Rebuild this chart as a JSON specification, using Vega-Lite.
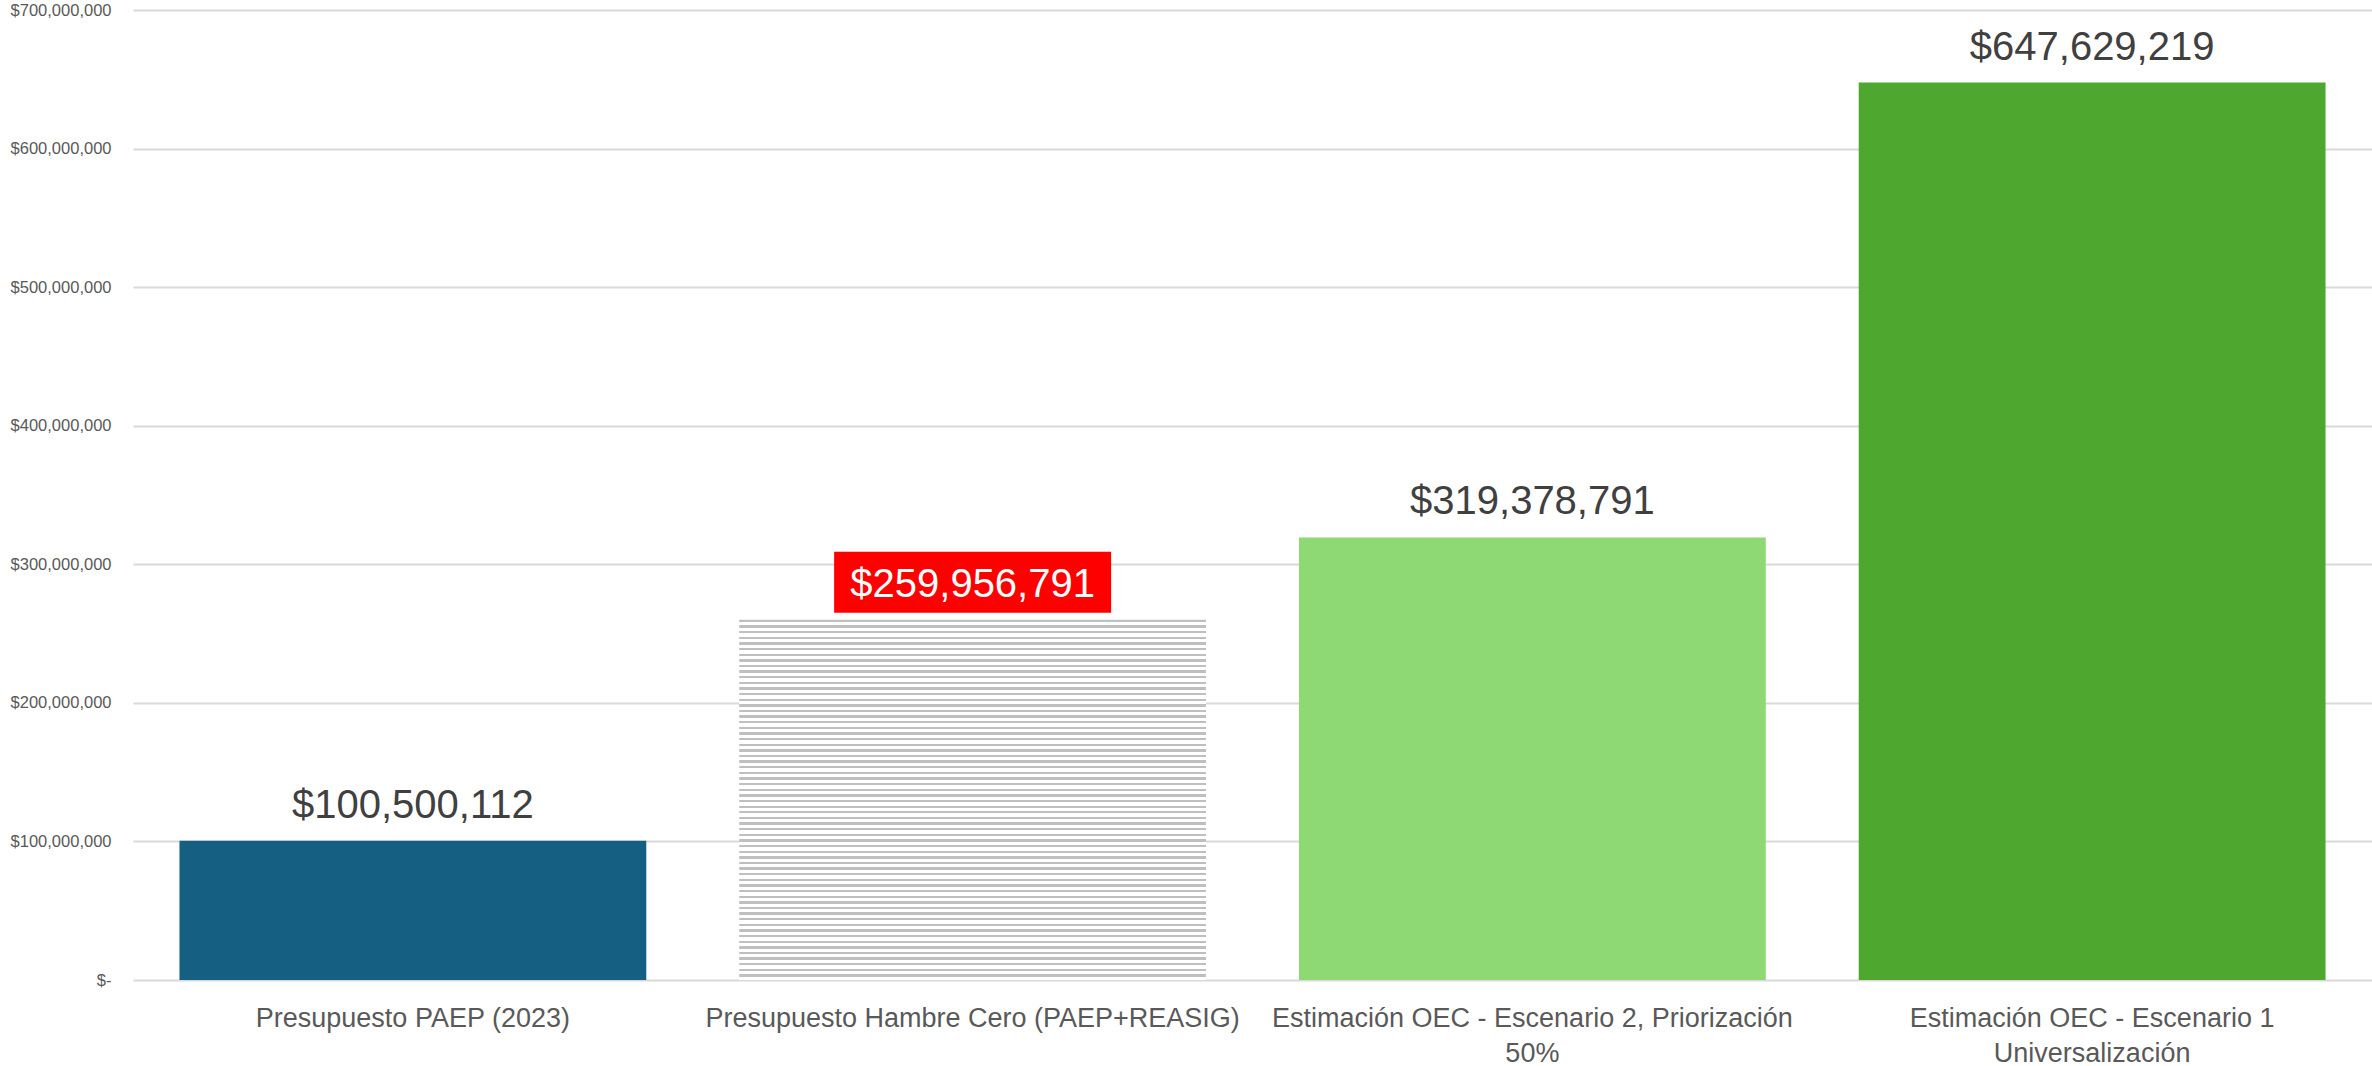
{
  "$schema": "https://vega.github.io/schema/vega-lite/v6.json",
  "width": 2239,
  "height": 970,
  "autosize": {"type": "none"},
  "padding": {"left": 133, "top": 10, "right": 0, "bottom": 86},
  "background": "#ffffff",
  "config": {"view": {"stroke": null}, "font": "Liberation Sans"},
  "data": {
    "values": [
      {"cat": "Presupuesto PAEP (2023)", "value": 100500112},
      {"cat": "Presupuesto Hambre Cero (PAEP+REASIG)", "value": 259956791},
      {"cat": "Estimación OEC - Escenario 2, Priorización 50%", "value": 319378791},
      {"cat": "Estimación OEC - Escenario 1 Universalización", "value": 647629219}
    ]
  },
  "encoding": {
    "x": {
      "field": "cat",
      "type": "nominal",
      "sort": null,
      "scale": {
        "domain": ["Presupuesto PAEP (2023)", "Presupuesto Hambre Cero (PAEP+REASIG)", "Estimación OEC - Escenario 2, Priorización 50%", "Estimación OEC - Escenario 1 Universalización"],
        "paddingInner": 0.166,
        "paddingOuter": 0.083
      },
      "axis": {
        "title": null,
        "labelAngle": 0,
        "labelFontSize": 27,
        "labelColor": "#595959",
        "labelPadding": 25,
        "labelLineHeight": 35,
        "labelLimit": 700,
        "labelOverlap": false,
        "ticks": false,
        "domain": false,
        "grid": false,
        "labelExpr": "datum.value == 'Estimación OEC - Escenario 2, Priorización 50%' ? ['Estimación OEC - Escenario 2, Priorización', '50%'] : datum.value == 'Estimación OEC - Escenario 1 Universalización' ? ['Estimación OEC - Escenario 1', 'Universalización'] : datum.value"
      }
    },
    "y": {
      "field": "value",
      "type": "quantitative",
      "scale": {"domain": [0, 700000000], "nice": false},
      "axis": {
        "title": null,
        "tickCount": 7,
        "labelFontSize": 16.5,
        "labelColor": "#595959",
        "labelPadding": 22,
        "ticks": false,
        "domain": false,
        "gridColor": "#d9d9d9",
        "gridWidth": 2,
        "labelExpr": "datum.value == 0 ? '$-' : format(datum.value, '$,.0f')"
      }
    }
  },
  "layer": [
    {
      "transform": [{"filter": "datum.cat != 'Presupuesto Hambre Cero (PAEP+REASIG)'"}],
      "mark": {"type": "bar"},
      "encoding": {
        "color": {
          "field": "cat",
          "type": "nominal",
          "scale": {
            "domain": ["Presupuesto PAEP (2023)", "Estimación OEC - Escenario 2, Priorización 50%", "Estimación OEC - Escenario 1 Universalización"],
            "range": ["#156082", "#8ED973", "#4EA72E"]
          },
          "legend": null
        }
      }
    },
    {
      "transform": [{"filter": "datum.cat == 'Presupuesto Hambre Cero (PAEP+REASIG)'"}],
      "mark": {
        "type": "bar",
        "fill": {
          "gradient": "linear", "x1": 0, "y1": 0, "x2": 0, "y2": 1,
          "stops": [
            {"offset":0,"color":"#bfbfbf"},{"offset":0.0065,"color":"#bfbfbf"},{"offset":0.0065,"color":"#fff"},{"offset":0.015625,"color":"#fff"},
            {"offset":0.015625,"color":"#bfbfbf"},{"offset":0.022125,"color":"#bfbfbf"},{"offset":0.022125,"color":"#fff"},{"offset":0.03125,"color":"#fff"},
            {"offset":0.03125,"color":"#bfbfbf"},{"offset":0.03775,"color":"#bfbfbf"},{"offset":0.03775,"color":"#fff"},{"offset":0.046875,"color":"#fff"},
            {"offset":0.046875,"color":"#bfbfbf"},{"offset":0.053375,"color":"#bfbfbf"},{"offset":0.053375,"color":"#fff"},{"offset":0.0625,"color":"#fff"},
            {"offset":0.0625,"color":"#bfbfbf"},{"offset":0.069,"color":"#bfbfbf"},{"offset":0.069,"color":"#fff"},{"offset":0.078125,"color":"#fff"},
            {"offset":0.078125,"color":"#bfbfbf"},{"offset":0.084625,"color":"#bfbfbf"},{"offset":0.084625,"color":"#fff"},{"offset":0.09375,"color":"#fff"},
            {"offset":0.09375,"color":"#bfbfbf"},{"offset":0.10025,"color":"#bfbfbf"},{"offset":0.10025,"color":"#fff"},{"offset":0.109375,"color":"#fff"},
            {"offset":0.109375,"color":"#bfbfbf"},{"offset":0.115875,"color":"#bfbfbf"},{"offset":0.115875,"color":"#fff"},{"offset":0.125,"color":"#fff"},
            {"offset":0.125,"color":"#bfbfbf"},{"offset":0.1315,"color":"#bfbfbf"},{"offset":0.1315,"color":"#fff"},{"offset":0.140625,"color":"#fff"},
            {"offset":0.140625,"color":"#bfbfbf"},{"offset":0.147125,"color":"#bfbfbf"},{"offset":0.147125,"color":"#fff"},{"offset":0.15625,"color":"#fff"},
            {"offset":0.15625,"color":"#bfbfbf"},{"offset":0.16275,"color":"#bfbfbf"},{"offset":0.16275,"color":"#fff"},{"offset":0.171875,"color":"#fff"},
            {"offset":0.171875,"color":"#bfbfbf"},{"offset":0.178375,"color":"#bfbfbf"},{"offset":0.178375,"color":"#fff"},{"offset":0.1875,"color":"#fff"},
            {"offset":0.1875,"color":"#bfbfbf"},{"offset":0.194,"color":"#bfbfbf"},{"offset":0.194,"color":"#fff"},{"offset":0.203125,"color":"#fff"},
            {"offset":0.203125,"color":"#bfbfbf"},{"offset":0.209625,"color":"#bfbfbf"},{"offset":0.209625,"color":"#fff"},{"offset":0.21875,"color":"#fff"},
            {"offset":0.21875,"color":"#bfbfbf"},{"offset":0.22525,"color":"#bfbfbf"},{"offset":0.22525,"color":"#fff"},{"offset":0.234375,"color":"#fff"},
            {"offset":0.234375,"color":"#bfbfbf"},{"offset":0.240875,"color":"#bfbfbf"},{"offset":0.240875,"color":"#fff"},{"offset":0.25,"color":"#fff"},
            {"offset":0.25,"color":"#bfbfbf"},{"offset":0.2565,"color":"#bfbfbf"},{"offset":0.2565,"color":"#fff"},{"offset":0.265625,"color":"#fff"},
            {"offset":0.265625,"color":"#bfbfbf"},{"offset":0.272125,"color":"#bfbfbf"},{"offset":0.272125,"color":"#fff"},{"offset":0.28125,"color":"#fff"},
            {"offset":0.28125,"color":"#bfbfbf"},{"offset":0.28775,"color":"#bfbfbf"},{"offset":0.28775,"color":"#fff"},{"offset":0.296875,"color":"#fff"},
            {"offset":0.296875,"color":"#bfbfbf"},{"offset":0.303375,"color":"#bfbfbf"},{"offset":0.303375,"color":"#fff"},{"offset":0.3125,"color":"#fff"},
            {"offset":0.3125,"color":"#bfbfbf"},{"offset":0.319,"color":"#bfbfbf"},{"offset":0.319,"color":"#fff"},{"offset":0.328125,"color":"#fff"},
            {"offset":0.328125,"color":"#bfbfbf"},{"offset":0.334625,"color":"#bfbfbf"},{"offset":0.334625,"color":"#fff"},{"offset":0.34375,"color":"#fff"},
            {"offset":0.34375,"color":"#bfbfbf"},{"offset":0.35025,"color":"#bfbfbf"},{"offset":0.35025,"color":"#fff"},{"offset":0.359375,"color":"#fff"},
            {"offset":0.359375,"color":"#bfbfbf"},{"offset":0.365875,"color":"#bfbfbf"},{"offset":0.365875,"color":"#fff"},{"offset":0.375,"color":"#fff"},
            {"offset":0.375,"color":"#bfbfbf"},{"offset":0.3815,"color":"#bfbfbf"},{"offset":0.3815,"color":"#fff"},{"offset":0.390625,"color":"#fff"},
            {"offset":0.390625,"color":"#bfbfbf"},{"offset":0.397125,"color":"#bfbfbf"},{"offset":0.397125,"color":"#fff"},{"offset":0.40625,"color":"#fff"},
            {"offset":0.40625,"color":"#bfbfbf"},{"offset":0.41275,"color":"#bfbfbf"},{"offset":0.41275,"color":"#fff"},{"offset":0.421875,"color":"#fff"},
            {"offset":0.421875,"color":"#bfbfbf"},{"offset":0.428375,"color":"#bfbfbf"},{"offset":0.428375,"color":"#fff"},{"offset":0.4375,"color":"#fff"},
            {"offset":0.4375,"color":"#bfbfbf"},{"offset":0.444,"color":"#bfbfbf"},{"offset":0.444,"color":"#fff"},{"offset":0.453125,"color":"#fff"},
            {"offset":0.453125,"color":"#bfbfbf"},{"offset":0.459625,"color":"#bfbfbf"},{"offset":0.459625,"color":"#fff"},{"offset":0.46875,"color":"#fff"},
            {"offset":0.46875,"color":"#bfbfbf"},{"offset":0.47525,"color":"#bfbfbf"},{"offset":0.47525,"color":"#fff"},{"offset":0.484375,"color":"#fff"},
            {"offset":0.484375,"color":"#bfbfbf"},{"offset":0.490875,"color":"#bfbfbf"},{"offset":0.490875,"color":"#fff"},{"offset":0.5,"color":"#fff"},
            {"offset":0.5,"color":"#bfbfbf"},{"offset":0.5065,"color":"#bfbfbf"},{"offset":0.5065,"color":"#fff"},{"offset":0.515625,"color":"#fff"},
            {"offset":0.515625,"color":"#bfbfbf"},{"offset":0.522125,"color":"#bfbfbf"},{"offset":0.522125,"color":"#fff"},{"offset":0.53125,"color":"#fff"},
            {"offset":0.53125,"color":"#bfbfbf"},{"offset":0.53775,"color":"#bfbfbf"},{"offset":0.53775,"color":"#fff"},{"offset":0.546875,"color":"#fff"},
            {"offset":0.546875,"color":"#bfbfbf"},{"offset":0.553375,"color":"#bfbfbf"},{"offset":0.553375,"color":"#fff"},{"offset":0.5625,"color":"#fff"},
            {"offset":0.5625,"color":"#bfbfbf"},{"offset":0.569,"color":"#bfbfbf"},{"offset":0.569,"color":"#fff"},{"offset":0.578125,"color":"#fff"},
            {"offset":0.578125,"color":"#bfbfbf"},{"offset":0.584625,"color":"#bfbfbf"},{"offset":0.584625,"color":"#fff"},{"offset":0.59375,"color":"#fff"},
            {"offset":0.59375,"color":"#bfbfbf"},{"offset":0.60025,"color":"#bfbfbf"},{"offset":0.60025,"color":"#fff"},{"offset":0.609375,"color":"#fff"},
            {"offset":0.609375,"color":"#bfbfbf"},{"offset":0.615875,"color":"#bfbfbf"},{"offset":0.615875,"color":"#fff"},{"offset":0.625,"color":"#fff"},
            {"offset":0.625,"color":"#bfbfbf"},{"offset":0.6315,"color":"#bfbfbf"},{"offset":0.6315,"color":"#fff"},{"offset":0.640625,"color":"#fff"},
            {"offset":0.640625,"color":"#bfbfbf"},{"offset":0.647125,"color":"#bfbfbf"},{"offset":0.647125,"color":"#fff"},{"offset":0.65625,"color":"#fff"},
            {"offset":0.65625,"color":"#bfbfbf"},{"offset":0.66275,"color":"#bfbfbf"},{"offset":0.66275,"color":"#fff"},{"offset":0.671875,"color":"#fff"},
            {"offset":0.671875,"color":"#bfbfbf"},{"offset":0.678375,"color":"#bfbfbf"},{"offset":0.678375,"color":"#fff"},{"offset":0.6875,"color":"#fff"},
            {"offset":0.6875,"color":"#bfbfbf"},{"offset":0.694,"color":"#bfbfbf"},{"offset":0.694,"color":"#fff"},{"offset":0.703125,"color":"#fff"},
            {"offset":0.703125,"color":"#bfbfbf"},{"offset":0.709625,"color":"#bfbfbf"},{"offset":0.709625,"color":"#fff"},{"offset":0.71875,"color":"#fff"},
            {"offset":0.71875,"color":"#bfbfbf"},{"offset":0.72525,"color":"#bfbfbf"},{"offset":0.72525,"color":"#fff"},{"offset":0.734375,"color":"#fff"},
            {"offset":0.734375,"color":"#bfbfbf"},{"offset":0.740875,"color":"#bfbfbf"},{"offset":0.740875,"color":"#fff"},{"offset":0.75,"color":"#fff"},
            {"offset":0.75,"color":"#bfbfbf"},{"offset":0.7565,"color":"#bfbfbf"},{"offset":0.7565,"color":"#fff"},{"offset":0.765625,"color":"#fff"},
            {"offset":0.765625,"color":"#bfbfbf"},{"offset":0.772125,"color":"#bfbfbf"},{"offset":0.772125,"color":"#fff"},{"offset":0.78125,"color":"#fff"},
            {"offset":0.78125,"color":"#bfbfbf"},{"offset":0.78775,"color":"#bfbfbf"},{"offset":0.78775,"color":"#fff"},{"offset":0.796875,"color":"#fff"},
            {"offset":0.796875,"color":"#bfbfbf"},{"offset":0.803375,"color":"#bfbfbf"},{"offset":0.803375,"color":"#fff"},{"offset":0.8125,"color":"#fff"},
            {"offset":0.8125,"color":"#bfbfbf"},{"offset":0.819,"color":"#bfbfbf"},{"offset":0.819,"color":"#fff"},{"offset":0.828125,"color":"#fff"},
            {"offset":0.828125,"color":"#bfbfbf"},{"offset":0.834625,"color":"#bfbfbf"},{"offset":0.834625,"color":"#fff"},{"offset":0.84375,"color":"#fff"},
            {"offset":0.84375,"color":"#bfbfbf"},{"offset":0.85025,"color":"#bfbfbf"},{"offset":0.85025,"color":"#fff"},{"offset":0.859375,"color":"#fff"},
            {"offset":0.859375,"color":"#bfbfbf"},{"offset":0.865875,"color":"#bfbfbf"},{"offset":0.865875,"color":"#fff"},{"offset":0.875,"color":"#fff"},
            {"offset":0.875,"color":"#bfbfbf"},{"offset":0.8815,"color":"#bfbfbf"},{"offset":0.8815,"color":"#fff"},{"offset":0.890625,"color":"#fff"},
            {"offset":0.890625,"color":"#bfbfbf"},{"offset":0.897125,"color":"#bfbfbf"},{"offset":0.897125,"color":"#fff"},{"offset":0.90625,"color":"#fff"},
            {"offset":0.90625,"color":"#bfbfbf"},{"offset":0.91275,"color":"#bfbfbf"},{"offset":0.91275,"color":"#fff"},{"offset":0.921875,"color":"#fff"},
            {"offset":0.921875,"color":"#bfbfbf"},{"offset":0.928375,"color":"#bfbfbf"},{"offset":0.928375,"color":"#fff"},{"offset":0.9375,"color":"#fff"},
            {"offset":0.9375,"color":"#bfbfbf"},{"offset":0.944,"color":"#bfbfbf"},{"offset":0.944,"color":"#fff"},{"offset":0.953125,"color":"#fff"},
            {"offset":0.953125,"color":"#bfbfbf"},{"offset":0.959625,"color":"#bfbfbf"},{"offset":0.959625,"color":"#fff"},{"offset":0.96875,"color":"#fff"},
            {"offset":0.96875,"color":"#bfbfbf"},{"offset":0.97525,"color":"#bfbfbf"},{"offset":0.97525,"color":"#fff"},{"offset":0.984375,"color":"#fff"},
            {"offset":0.984375,"color":"#bfbfbf"},{"offset":0.990875,"color":"#bfbfbf"},{"offset":0.990875,"color":"#fff"},{"offset":1,"color":"#fff"}
          ]
        }
      }
    },
    {
      "transform": [{"filter": "datum.cat == 'Presupuesto Hambre Cero (PAEP+REASIG)'"}],
      "mark": {
        "type": "point",
        "shape": "M-1,-0.22L1,-0.22L1,0.22L-1,0.22Z",
        "size": 76729,
        "filled": true,
        "fill": "#FF0000",
        "opacity": 1,
        "strokeWidth": 0,
        "yOffset": -37.5
      }
    },
    {
      "mark": {
        "type": "text",
        "fontSize": 40,
        "baseline": "alphabetic",
        "align": "center",
        "dy": -23
      },
      "encoding": {
        "text": {"field": "value", "type": "quantitative", "format": "$,.0f"},
        "color": {
          "condition": {"test": "datum.cat == 'Presupuesto Hambre Cero (PAEP+REASIG)'", "value": "#ffffff"},
          "value": "#404040"
        }
      }
    }
  ]
}
